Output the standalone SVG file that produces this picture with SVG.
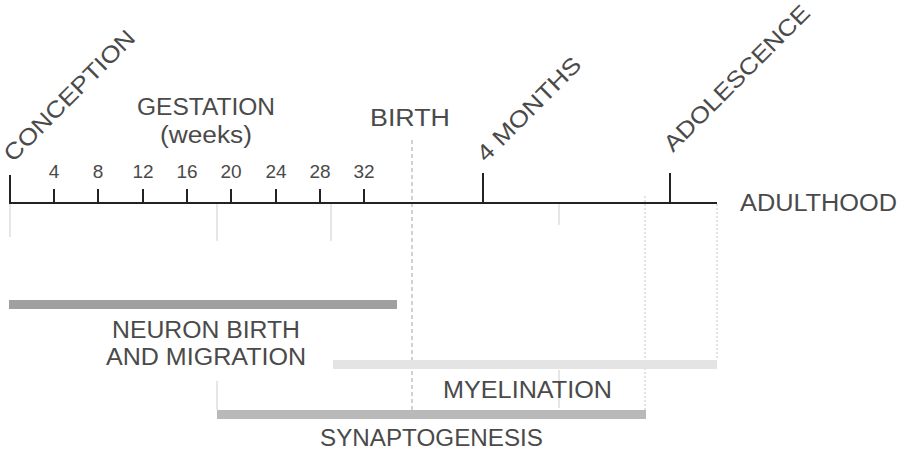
<svg xmlns="http://www.w3.org/2000/svg" width="904" height="451" viewBox="0 0 904 451">
<style>
.t{font-family:"Liberation Sans",Arial,sans-serif;font-size:23px;fill:#4a4a4a}
.n{font-family:"Liberation Sans",Arial,sans-serif;font-size:19px;fill:#4a4a4a;text-anchor:middle}
.ax{stroke:#222;stroke-width:2;fill:none}
.g{stroke:#dedede;stroke-width:1.5;fill:none}
.gd{stroke:#cfcfcf;stroke-width:1.2;stroke-dasharray:2 2;fill:none}
.bd{stroke:#c4c4c4;stroke-width:1.5;stroke-dasharray:4 3;fill:none}
</style>
<rect width="904" height="451" fill="#fff"/>
<g id="guides">
<line class="g" x1="10" y1="204" x2="10" y2="237"/>
<line class="g" x1="217" y1="204" x2="217" y2="241"/>
<line class="g" x1="331" y1="204" x2="331" y2="241"/>
<line class="g" x1="217" y1="381" x2="217" y2="410"/>
<line class="g" x1="559" y1="204" x2="559" y2="225"/>
<line class="g" x1="559" y1="370" x2="559" y2="408"/>
<line class="gd" x1="645" y1="196" x2="645" y2="410"/>
<line class="gd" x1="717" y1="204" x2="717" y2="360"/>
<line class="bd" x1="412" y1="140" x2="412" y2="410"/>
</g>
<g id="bars">
<rect id="bar-neuron" x="9" y="300" width="388" height="9" fill="#a0a0a0"/>
<rect id="bar-myelination" x="333" y="360" width="384" height="9" fill="#e4e4e4"/>
<rect id="bar-synaptogenesis" x="217" y="410" width="429" height="9" fill="#b9b9b9"/>
</g>
<g id="axis">
<line class="ax" x1="9" y1="203" x2="717" y2="203"/>
<line class="ax" x1="10" y1="175" x2="10" y2="203"/>
<line class="ax" x1="483" y1="173" x2="483" y2="203"/>
<line class="ax" x1="670" y1="173" x2="670" y2="203"/>
<g id="week-ticks">
<line class="ax" x1="54" y1="189" x2="54" y2="203"/>
<line class="ax" x1="98" y1="189" x2="98" y2="203"/>
<line class="ax" x1="143" y1="189" x2="143" y2="203"/>
<line class="ax" x1="187" y1="189" x2="187" y2="203"/>
<line class="ax" x1="231" y1="189" x2="231" y2="203"/>
<line class="ax" x1="276" y1="189" x2="276" y2="203"/>
<line class="ax" x1="320" y1="189" x2="320" y2="203"/>
<line class="ax" x1="364" y1="189" x2="364" y2="203"/>
</g>
</g>
<g id="week-numbers">
<text class="n" x="54" y="178">4</text>
<text class="n" x="98" y="178">8</text>
<text class="n" x="143" y="178">12</text>
<text class="n" x="187" y="178">16</text>
<text class="n" x="231" y="178">20</text>
<text class="n" x="276" y="178">24</text>
<text class="n" x="320" y="178">28</text>
<text class="n" x="364" y="178">32</text>
</g>
<g id="conception"><text class="t" x="13" y="163" transform="rotate(-45 13 163)" textLength="175" lengthAdjust="spacingAndGlyphs">CONCEPTION</text></g>
<g id="four-months"><text class="t" x="486" y="163" transform="rotate(-45 486 163)" textLength="137" lengthAdjust="spacingAndGlyphs">4 MONTHS</text></g>
<g id="adolescence"><text class="t" x="673" y="153" transform="rotate(-45 673 153)" textLength="196" lengthAdjust="spacingAndGlyphs">ADOLESCENCE</text></g>
<g id="gestation">
<text class="t" x="137" y="115" textLength="138" lengthAdjust="spacingAndGlyphs">GESTATION</text>
<text class="t" x="160" y="143" textLength="92" lengthAdjust="spacingAndGlyphs">(weeks)</text>
</g>
<g id="birth"><text class="t" x="370" y="126" textLength="80" lengthAdjust="spacingAndGlyphs">BIRTH</text></g>
<g id="adulthood"><text class="t" x="740" y="211" textLength="157" lengthAdjust="spacingAndGlyphs">ADULTHOOD</text></g>
<g id="neuron-label">
<text class="t" x="112" y="338" textLength="188" lengthAdjust="spacingAndGlyphs">NEURON BIRTH</text>
<text class="t" x="106" y="365" textLength="200" lengthAdjust="spacingAndGlyphs">AND MIGRATION</text>
</g>
<g id="myelination-label"><text class="t" x="443" y="398" textLength="169" lengthAdjust="spacingAndGlyphs">MYELINATION</text></g>
<g id="synaptogenesis-label"><text class="t" x="320" y="446" textLength="223" lengthAdjust="spacingAndGlyphs">SYNAPTOGENESIS</text></g>
</svg>
